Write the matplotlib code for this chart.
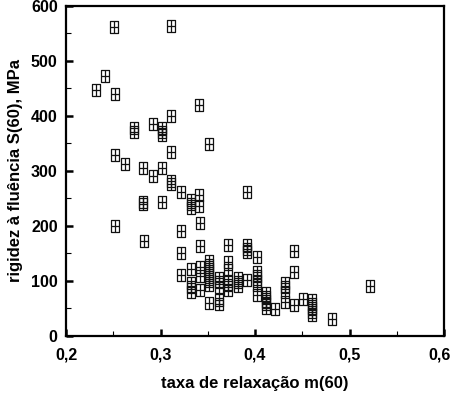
import numpy as np
import matplotlib.pyplot as plt
from matplotlib.path import Path
from matplotlib.ticker import MultipleLocator, FuncFormatter

plt.rcParams['font.family'] = ['Liberation Sans', 'DejaVu Sans']
plt.rcParams['font.weight'] = 'bold'

# relaxation rate m(60)
m60 = [0.251, 0.311, 0.241, 0.232, 0.252, 0.341, 0.311, 0.272, 0.272, 0.292,
       0.302, 0.302, 0.302, 0.351, 0.252, 0.311, 0.262, 0.281, 0.302, 0.292,
       0.311, 0.311, 0.322, 0.281, 0.281, 0.302, 0.252, 0.322, 0.282,
       0.332, 0.332, 0.332, 0.341, 0.341, 0.342, 0.392, 0.342, 0.371,
       0.392, 0.392, 0.392, 0.402, 0.322, 0.322, 0.332, 0.342, 0.342,
       0.351, 0.351, 0.351, 0.351, 0.351, 0.351, 0.351, 0.371, 0.371,
       0.332, 0.332, 0.332, 0.342, 0.362, 0.362, 0.362, 0.371, 0.371, 0.371,
       0.382, 0.382, 0.382, 0.392, 0.402, 0.402, 0.402, 0.402,
       0.351, 0.362, 0.362, 0.402, 0.412, 0.412, 0.412, 0.412, 0.412,
       0.421, 0.432, 0.432, 0.432, 0.432, 0.441, 0.441, 0.441, 0.451,
       0.460, 0.460, 0.460, 0.460, 0.460, 0.481, 0.522]
# creep stiffness S(60), MPa
s60 = [562, 564, 473, 447, 440, 420, 400, 378, 371, 385,
       378, 371, 365, 349, 329, 335, 313, 305, 305, 291,
       282, 276, 262, 244, 240, 244, 200, 191, 173,
       247, 240, 233, 256, 236, 205, 262, 164, 165,
       165, 158, 153, 144, 151, 111, 122, 125, 109,
       136, 129, 122, 115, 107, 100, 93, 134, 120,
       96, 89, 80, 84, 105, 98, 89, 100, 93, 84,
       105, 98, 91, 102, 116, 109, 100, 93,
       60, 65, 58, 75, 78, 71, 64, 58, 51,
       49, 96, 89, 80, 62, 154, 116, 56, 67,
       65, 58, 51, 44, 38, 31, 91]

x_max = 0.6

# box with a cross inside
verts = [(-0.4, -0.5), (0.4, -0.5), (0.4, 0.5), (-0.4, 0.5), (-0.4, -0.5),
         (0, -0.5), (0, 0.5), (-0.4, 0), (0.4, 0)]
codes = [Path.MOVETO, Path.LINETO, Path.LINETO, Path.LINETO, Path.CLOSEPOLY,
         Path.MOVETO, Path.LINETO, Path.MOVETO, Path.LINETO]
boxplus = Path(verts, codes)

fig = plt.figure(figsize=(4.54, 3.99), dpi=100)
ax = fig.add_axes([0.1454, 0.158, 0.8326, 0.827])

ax.plot(m60, s60, linestyle='none', marker=boxplus, markersize=8,
        markerfacecolor='none', markeredgecolor='#111111', markeredgewidth=0.9)

ax.set_xlim(0.2, x_max)
ax.set_ylim(0, 600)
ax.xaxis.set_major_locator(MultipleLocator(0.1))
ax.xaxis.set_minor_locator(MultipleLocator(0.05))
ax.yaxis.set_major_locator(MultipleLocator(100))
ax.yaxis.set_minor_locator(MultipleLocator(50))


def comma(v, p):
    # the last label is drawn separately so it is not cut at the figure edge
    if abs(v - x_max) < 1e-9:
        return ''
    return f'{v:.1f}'.replace('.', ',')


ax.xaxis.set_major_formatter(FuncFormatter(comma))
ax.annotate(f'{x_max:.1f}'.replace('.', ','), xy=(x_max, 0),
            xycoords=('data', 'axes fraction'), xytext=(-3, -8),
            textcoords='offset points', ha='center', va='top',
            fontsize=11.5, fontweight='bold', annotation_clip=False)

for s in ax.spines.values():
    s.set_linewidth(1.6)
ax.tick_params(which='major', direction='in', length=5, width=1.8, labelsize=11.5, pad=8)
ax.tick_params(which='minor', direction='in', length=3.5, width=0.8)
ax.tick_params(axis='y', which='major', pad=6)

ax.set_xlabel('taxa de relaxação m(60)', fontsize=12, fontweight='bold', labelpad=10)
ax.set_ylabel('rigidez à fluência S(60), MPa', fontsize=12, fontweight='bold', labelpad=6)

fig.savefig('out.png', dpi=100)
